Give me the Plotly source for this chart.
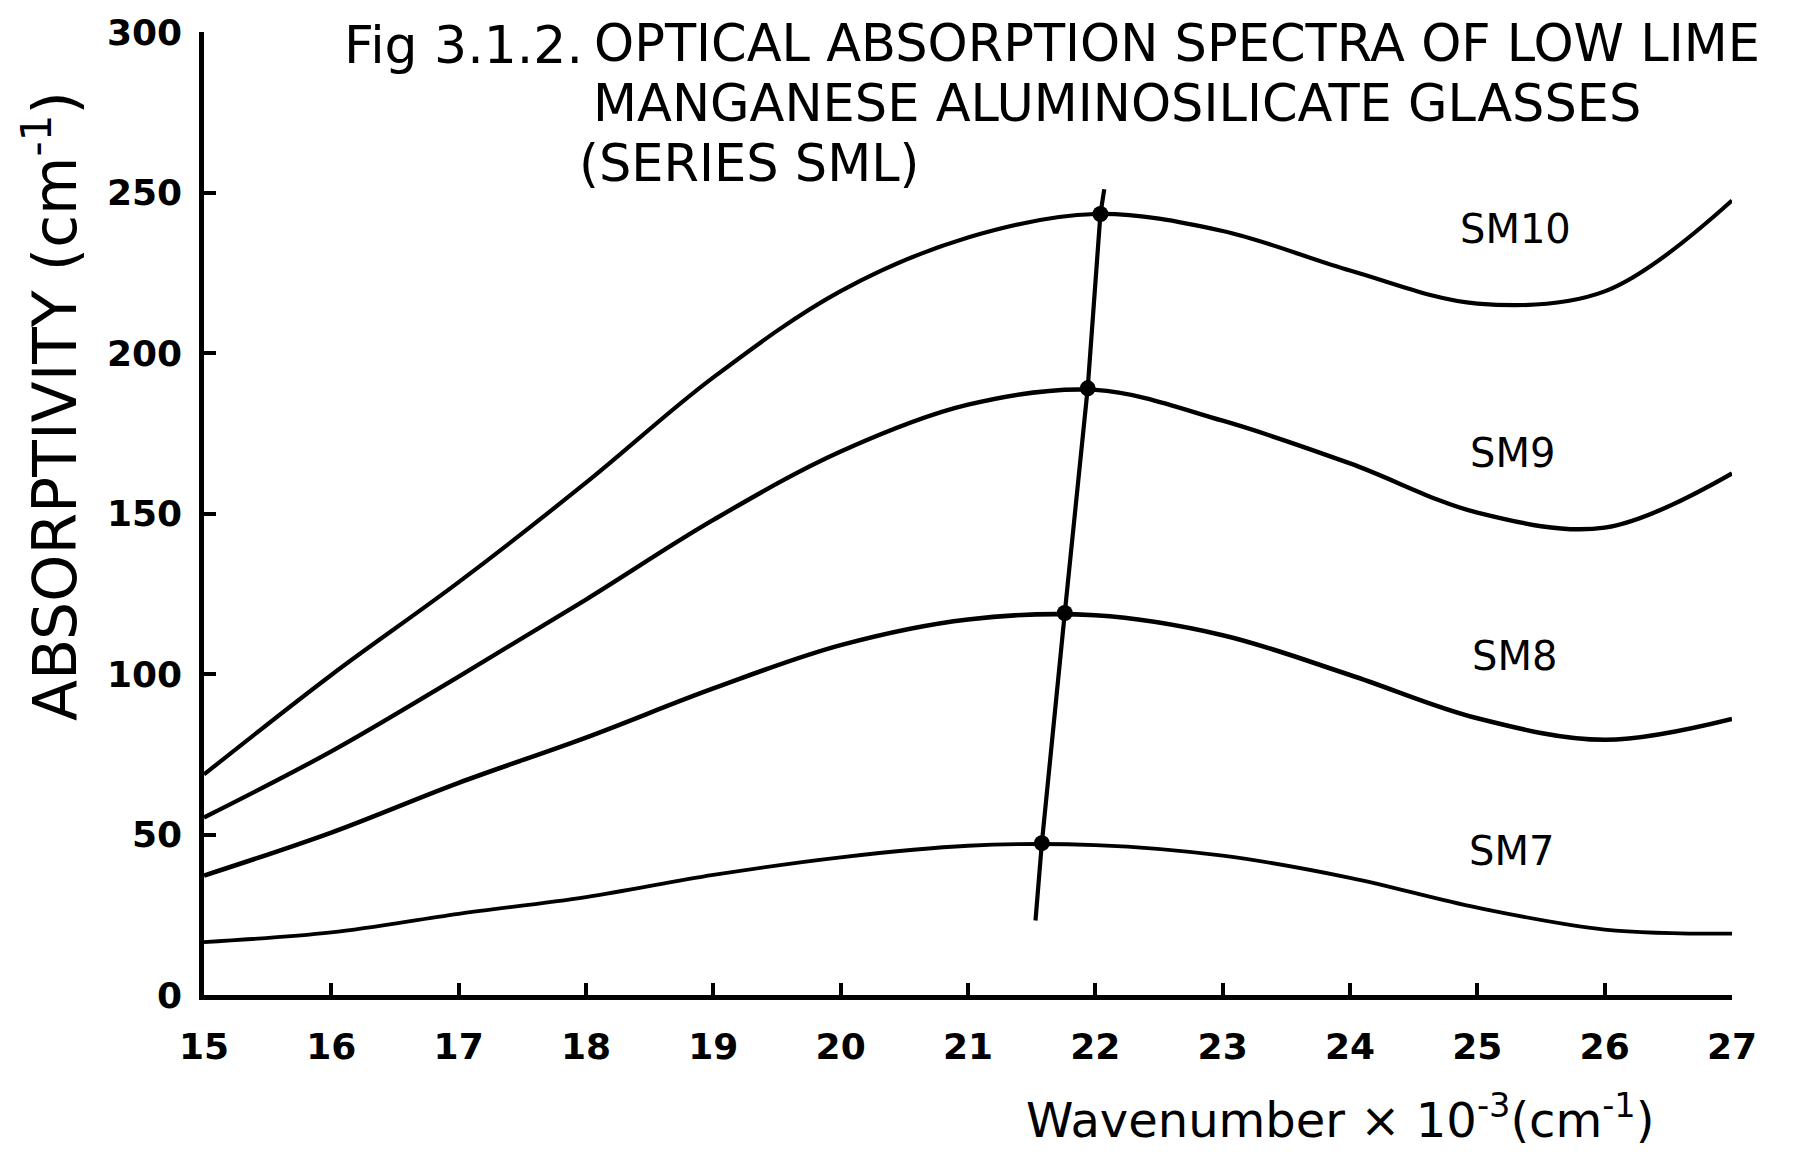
import plotly.graph_objects as go

# ---- data ----
wavenumber = [15, 16, 17, 18, 19, 20, 21, 22, 23, 24, 25, 26, 27]
sm10 = [68.7, 99.7, 128.6, 159.6, 192.4, 219.3, 236.0, 243.3, 238.0, 225.7, 215.4, 219.2, 247.5]
sm9 = [55.3, 75.9, 99.2, 123.2, 148.0, 169.3, 183.9, 188.5, 178.9, 165.6, 150.3, 145.6, 162.5]
sm8 = [37.2, 50.6, 66.1, 80.2, 95.5, 109.0, 117.0, 118.3, 112.1, 99.7, 86.2, 79.5, 86.0]
sm7 = [16.5, 19.5, 25.3, 30.5, 37.4, 42.9, 46.5, 46.7, 43.4, 36.5, 27.2, 20.4, 19.1]

series_names = ["SM7", "SM8", "SM9", "SM10"]
peak_x = [21.58, 21.76, 21.94, 22.04]
peak_y = [47.3, 119.0, 189.0, 243.3]
# line joining the band maxima (with its drawn ends)
locus_x = [21.53, 21.58, 21.76, 21.94, 22.04, 22.07]
locus_y = [23.2, 47.3, 119.0, 189.0, 243.3, 251.0]

label_x = [25.27, 25.29, 25.28, 25.30]
label_y = [44.9, 105.7, 168.9, 238.6]

x_ticks = list(range(15, 28))
y_ticks = [0, 50, 100, 150, 200, 250, 300]

FONT = "DejaVu Sans"
INK = "black"

fig = go.Figure()

for name, vals, w in [("SM10", sm10, 4.2), ("SM9", sm9, 4.4), ("SM8", sm8, 4.6), ("SM7", sm7, 3.8)]:
    fig.add_trace(go.Scatter(
        x=wavenumber, y=vals, mode="lines", name=name,
        line=dict(color=INK, width=w, shape="spline", smoothing=1.0),
        hoverinfo="skip",
    ))

fig.add_trace(go.Scatter(
    x=locus_x, y=locus_y, mode="lines",
    line=dict(color=INK, width=4.2), hoverinfo="skip",
))
fig.add_trace(go.Scatter(
    x=peak_x, y=peak_y, mode="markers",
    marker=dict(color=INK, size=16), hoverinfo="skip",
))

for name, lx, ly in zip(series_names, label_x, label_y):
    fig.add_annotation(x=lx, y=ly, xref="x", yref="y", text=name, showarrow=False,
                       font=dict(family=FONT, size=40, color=INK),
                       xanchor="center", yanchor="middle")

# title block
fig.add_annotation(x=0.2493, y=0.986, xref="paper", yref="paper", text="Fig 3.1.2.",
                   showarrow=False, xanchor="right", yanchor="middle",
                   font=dict(family=FONT, size=52, color=INK))
fig.add_annotation(x=0.2539, y=0.988, xref="paper", yref="paper",
                   text="OPTICAL ABSORPTION SPECTRA OF LOW LIME",
                   showarrow=False, xanchor="left", yanchor="middle",
                   font=dict(family=FONT, size=51, color=INK))
fig.add_annotation(x=0.2533, y=0.9256, xref="paper", yref="paper",
                   text="MANGANESE ALUMINOSILICATE GLASSES",
                   showarrow=False, xanchor="left", yanchor="middle",
                   font=dict(family=FONT, size=51, color=INK))
fig.add_annotation(x=0.2441, y=0.8636, xref="paper", yref="paper",
                   text="(SERIES SML)",
                   showarrow=False, xanchor="left", yanchor="middle",
                   font=dict(family=FONT, size=51, color=INK))

# axis titles
fig.add_annotation(x=0.7435, y=-0.127, xref="paper", yref="paper",
                   text="Wavenumber × 10<sup>-3</sup>(cm<sup>-1</sup>)",
                   showarrow=False, xanchor="center", yanchor="middle",
                   font=dict(family=FONT, size=48, color=INK))
fig.add_annotation(x=-0.1001, y=0.6116, xref="paper", yref="paper",
                   text="ABSORPTIVITY (cm<sup>-1</sup>)", textangle=-90,
                   showarrow=False, xanchor="center", yanchor="middle",
                   font=dict(family=FONT, size=60, color=INK))

fig.update_xaxes(
    range=[15, 27], tickmode="array", tickvals=x_ticks, ticktext=[str(v) for v in x_ticks],
    showline=True, linecolor=INK, linewidth=4.5, mirror=False,
    ticks="inside", ticklen=12, tickwidth=4, tickcolor=INK,
    showgrid=False, zeroline=False, ticklabelstandoff=16,
    tickfont=dict(family=FONT, size=36, color=INK, weight="bold"),
)
fig.update_yaxes(
    range=[0, 300], tickmode="array", tickvals=y_ticks, ticktext=[str(v) for v in y_ticks],
    showline=True, linecolor=INK, linewidth=4.5, mirror=False,
    ticks="inside", ticklen=12, tickwidth=4, tickcolor=INK,
    showgrid=False, zeroline=False, ticklabelstandoff=10,
    tickfont=dict(family=FONT, size=36, color=INK, weight="bold"),
)

fig.update_layout(
    width=1793, height=1163, autosize=False,
    margin=dict(l=204, r=61, t=27, b=168, pad=0),
    paper_bgcolor="white", plot_bgcolor="white",
    showlegend=False,
)

fig.write_html("out.html")
